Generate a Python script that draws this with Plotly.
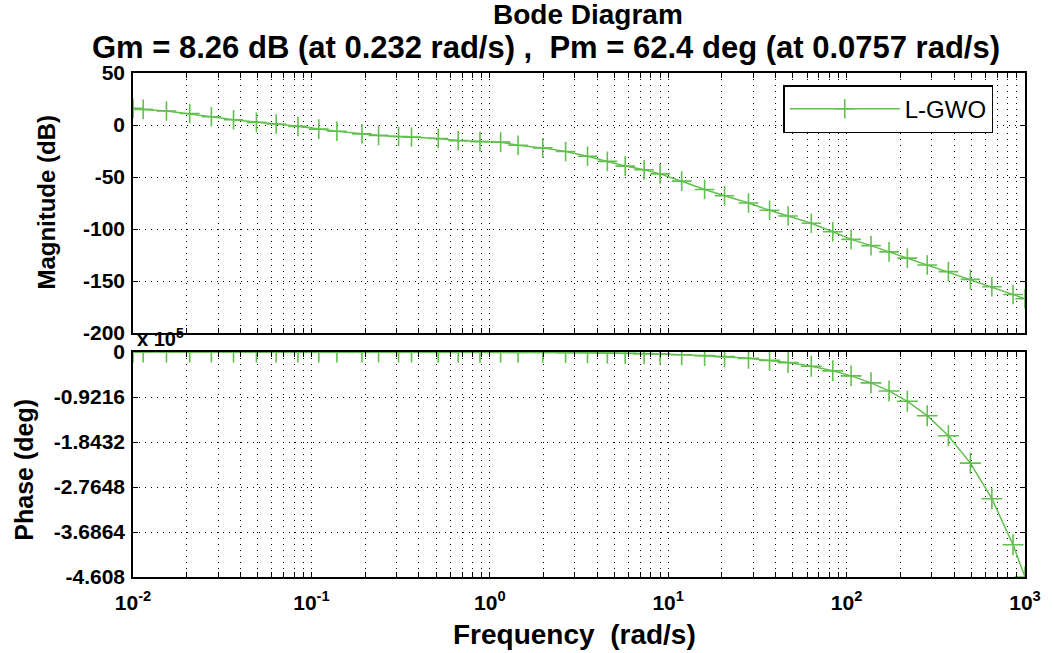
import plotly.graph_objects as go

# Frequency points (rad/s)
freq = [0.01, 0.0114, 0.0154, 0.0208, 0.0275, 0.0366, 0.0492, 0.0635, 0.0841, 0.110,
        0.139, 0.192, 0.238, 0.308, 0.364, 0.514, 0.665, 0.881, 1.15, 1.44,
        1.98, 2.66, 3.53, 4.56, 5.74, 7.33, 9.00, 11.9, 16.0, 20.7,
        28.2, 37.0, 47.0, 63.4, 83.7, 106, 137, 173, 219, 283,
        372, 494, 652, 857, 1000]
# Magnitude (dB)
mag_db = [16, 15, 13.5, 11, 8, 5, 2.5, 1, -1.3, -4,
          -6, -8.5, -10, -11, -11.5, -13, -15, -16, -16.5, -19.5,
          -22, -25.5, -30, -35, -39.5, -43, -47, -54, -62, -68,
          -75, -82, -87.5, -94.5, -102.6, -110, -116, -122, -128, -134.6,
          -141, -148.4, -155.5, -163, -167]
# Phase (deg)
phase_deg = [-5, -5, -7, -10, -13, -17, -23, -29, -39, -51,
             -64, -88, -110, -142, -168, -237, -306, -406, -530, -664,
             -912, -1226, -1627, -2101, -2645, -3378, -4147, -5484, -7373, -9539,
             -12995, -17050, -21658, -29215, -38569, -48845, -63130, -79718, -100915, -130406,
             -171418, -227635, -300442, -394906, -460800]

mag_ticks = [50, 0, -50, -100, -150, -200]
phase_ticks = [0, -92160, -184320, -276480, -368640, -460800]
phase_ticktext = ["0", "-0.9216", "-1.8432", "-2.7648", "-3.6864", "-4.608"]
decades = [0.01, 0.1, 1, 10, 100, 1000]
decade_labels = ["10<sup>-2</sup>", "10<sup>-1</sup>", "10<sup>0</sup>",
                 "10<sup>1</sup>", "10<sup>2</sup>", "10<sup>3</sup>"]

# tick positions: decades plus the 2..9 multiples (for the log grid)
x_tickvals = []
x_ticktext = []
for d, lab in zip(decades, decade_labels):
    x_tickvals.append(d)
    x_ticktext.append("<b>" + lab + "</b>")
    if d < 1000:
        for m in range(2, 10):
            x_tickvals.append(d * m)
            x_ticktext.append("")

green = "#62c04e"
font_main = "Liberation Sans, Arial, sans-serif"

fig = go.Figure()
fig.add_trace(go.Scatter(x=freq, y=mag_db, mode="lines+markers", name="L-GWO",
                         line=dict(color=green, width=1.5),
                         marker=dict(symbol="cross-thin-open", size=14,
                                     line=dict(color=green, width=1.6)),
                         xaxis="x", yaxis="y"))
fig.add_trace(go.Scatter(x=freq, y=phase_deg, mode="lines+markers", name="L-GWO",
                         line=dict(color=green, width=1.5),
                         marker=dict(symbol="cross-thin-open", size=15,
                                     line=dict(color=green, width=1.6)),
                         showlegend=False, xaxis="x2", yaxis="y2"))

grid = dict(showgrid=True, gridcolor="black", griddash="1px,5px", gridwidth=1)
axis_common = dict(showline=True, linecolor="black", linewidth=1.5, mirror="ticks",
                   ticks="inside", ticklen=5, tickcolor="black", zeroline=False,
                   tickfont=dict(family=font_main, size=21, color="black"))

fig.update_layout(
    width=1053, height=653,
    margin=dict(l=133, r=23, t=73, b=76),
    plot_bgcolor="white", paper_bgcolor="white",
    xaxis=dict(type="log", range=[-2, 3], domain=[0, 1], anchor="y",
               showticklabels=False, tickmode="array", tickvals=x_tickvals,
               ticktext=x_ticktext, **grid, **axis_common),
    yaxis=dict(range=[-200, 50], domain=[0.4841, 1], anchor="x",
               tickvals=mag_ticks, ticktext=["<b>%d</b>" % v for v in mag_ticks],
               ticklabelstandoff=2,
               **grid, **axis_common),
    xaxis2=dict(type="log", range=[-2, 3], domain=[0, 1], anchor="y2", matches="x",
                tickmode="array", tickvals=x_tickvals, ticktext=x_ticktext,
                ticklabelstandoff=6,
                **grid, **axis_common),
    yaxis2=dict(range=[-460800, 0], domain=[0, 0.4464], anchor="x2",
                tickvals=phase_ticks, ticktext=["<b>%s</b>" % t for t in phase_ticktext],
                ticklabelstandoff=2,
                **grid, **axis_common),
    legend=dict(x=0.729, y=0.976, xanchor="left", yanchor="top",
                bgcolor="white", bordercolor="black", borderwidth=1.5,
                font=dict(family=font_main, size=24, color="black"),
                itemwidth=110, tracegroupgap=0),
    showlegend=True,
)

fig.add_annotation(text="<b>Bode Diagram</b>", xref="paper", yref="paper",
                   x=0.51, y=1.116, xanchor="center", yanchor="middle", showarrow=False,
                   font=dict(family=font_main, size=28, color="black"))
fig.add_annotation(text="<b>Gm = 8.26 dB (at 0.232 rad/s) ,  Pm = 62.4 deg (at 0.0757 rad/s)</b>",
                   xref="paper", yref="paper",
                   x=0.463, y=1.05, xanchor="center", yanchor="middle", showarrow=False,
                   font=dict(family=font_main, size=31, color="black"))
fig.add_annotation(text="<b>Magnitude (dB)</b>", xref="paper", yref="paper",
                   x=-0.098, y=0.744, xanchor="center", yanchor="middle", showarrow=False,
                   textangle=-90, font=dict(family=font_main, size=24, color="black"))
fig.add_annotation(text="<b>Phase (deg)</b>", xref="paper", yref="paper",
                   x=-0.1226, y=0.2123, xanchor="center", yanchor="middle", showarrow=False,
                   textangle=-90, font=dict(family=font_main, size=25, color="black"))
fig.add_annotation(text="<b>Frequency  (rad/s)</b>", xref="paper", yref="paper",
                   x=0.495, y=-0.115, xanchor="center", yanchor="middle", showarrow=False,
                   font=dict(family=font_main, size=28, color="black"))
fig.add_annotation(text="<b>x 10<sup>5</sup></b>", xref="paper", yref="paper",
                   x=0.002, y=0.4464, xanchor="left", yanchor="bottom", showarrow=False,
                   font=dict(family=font_main, size=20, color="black"))

fig.write_html("out.html", config={"displayModeBar": False},
               post_script="document.body.style.margin='0';")
